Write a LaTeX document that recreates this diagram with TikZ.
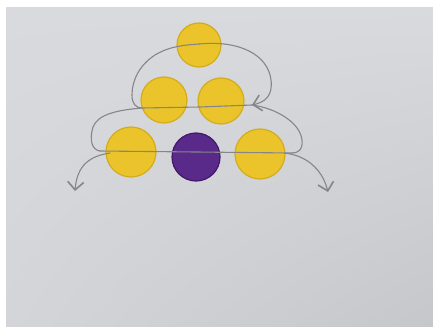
\documentclass[tikz,border=0pt]{standalone}
\usetikzlibrary{arrows.meta,shadings}
\definecolor{paper}{HTML}{D9DADE}
\definecolor{paperlow}{HTML}{D4D5D9}
\definecolor{paperdark}{HTML}{C6C7CB}
\definecolor{ballyellow}{HTML}{EAC42A}
\definecolor{ballrim}{HTML}{D3AC1E}
\definecolor{ballpurple}{HTML}{5A2A8A}
\definecolor{purplerim}{HTML}{43176C}
\definecolor{pencil}{HTML}{86868A}
\tikzset{
  yball/.style={circle, fill=ballyellow, draw=ballrim, line width=1.2pt, minimum size=46pt, inner sep=0pt},
  pball/.style={circle, fill=ballpurple, draw=purplerim, line width=1.2pt, minimum size=46pt, inner sep=0pt},
  pencilline/.style={draw=pencil, line width=1.1pt, line cap=round, line join=round},
  pencilarrow/.style={pencilline, -{Straight Barb[length=8pt,width=16pt,line width=1.6pt]}}
}
\begin{document}
\begin{tikzpicture}[x=1pt,y=-1pt]
\useasboundingbox (0,0) rectangle (433,329);
\fill[white] (0,0) rectangle (433,329);
\shade[upper left=paper, upper right=paper, lower left=paperlow, lower right=paperdark] (6,8) rectangle (433,326);
% balls
\node[yball, minimum size=44pt] (t)  at (199,45) {};
\node[yball] (ml) at (164,100) {};
\node[yball] (mr) at (221,101) {};
\node[yball, minimum size=50pt] (bl) at (131,152) {};
\node[pball, minimum size=48pt] (bp) at (196,157) {};
\node[yball, minimum size=50pt] (br) at (260,154) {};
% free ends
\coordinate (ts) at (199,44);
\coordinate (mstart) at (142,108);
\coordinate (mend) at (252,105);
\coordinate (bstart) at (100,151);
\coordinate (bend) at (292,153);
\coordinate (lout) at (110,153);
\coordinate (rout) at (284,153);
\coordinate (ltip) at (75,191);
\coordinate (rtip) at (328,192);
% upper loops
\draw[pencilline] (ts) .. controls (185,45) and (170,46) .. (155,55)
  .. controls (138,66) and (132,82) .. (132,95)
  .. controls (132,104) and (136,108) .. (mstart);
\draw[pencilarrow] (ts) .. controls (240,40) and (268,55) .. (271,80)
  .. controls (273,96) and (265,102) .. (mend);
% middle row line
\draw[pencilline] (mstart) -- (200,107) -- (mend);
% lower loops
\draw[pencilline] (mend) .. controls (275,108) and (300,122) .. (302,140)
  .. controls (303,150) and (298,153) .. (bend);
\draw[pencilline] (mstart) .. controls (118,110) and (98,114) .. (93,127)
  .. controls (89,140) and (92,150) .. (bstart);
% bottom row line
\draw[pencilline] (bstart) -- (196,152) -- (bend);
% exit arrows
\draw[pencilarrow] (lout) .. controls (90,156) and (77,165) .. (ltip);
\draw[pencilarrow] (rout) .. controls (305,155) and (322,168) .. (rtip);
\end{tikzpicture}
\end{document}
